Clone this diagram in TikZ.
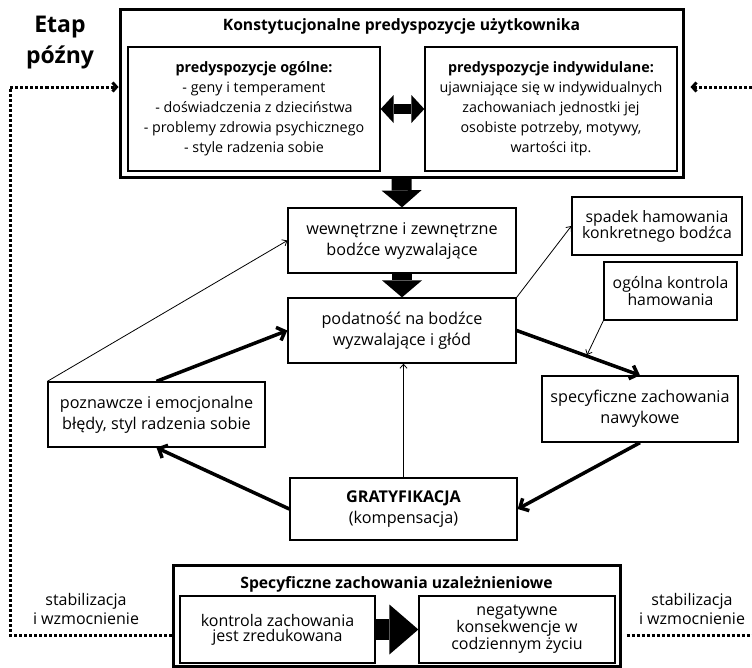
\documentclass[tikz,border=0pt]{standalone}
\usepackage{fontspec}
\setmainfont{Open Sans}
\usetikzlibrary{arrows.meta}

\begin{document}
\begin{tikzpicture}[x = 1pt, y = -1pt,
	main/.style = {draw, line width=1.3pt, align=center, inner sep=0pt, font=\fontsize{16.2}{21}\selectfont},
	outer/.style = {draw, line width=3pt, inner sep=0pt},
	thin/.style = {line width=0.8pt, -{Straight Barb[length=4pt, width=7pt]}},
	thick/.style = {line width=3.5pt, -{Straight Barb[length=7pt, width=14pt]}},
	dots/.style = {line width=3pt, dash pattern=on 3pt off 2pt},
	block/.style = {line width=20pt, -{Triangle[length=17pt, width=40pt, line width=0pt]}}]

	\useasboundingbox (0, 0) rectangle (752, 667);

	% gora
	\node[outer, minimum width=563pt, minimum height=168pt] (konst) at (401.5, 93) {};
	\node[font=\bfseries\fontsize{15.7}{18}\selectfont] (konstTytul) at (401.5, 26) {Konstytucjonalne predyspozycje użytkownika};
	\node[main, font=\fontsize{14.3}{20}\selectfont, minimum width=252pt, minimum height=124pt] (ogolne) at (254, 109)
		{\textbf{predyspozycje ogólne:}\\- geny i temperament\\- doświadczenia z dzieciństwa\\- problemy zdrowia psychicznego\\- style radzenia sobie};
	\node[main, font=\fontsize{14.3}{20}\selectfont, minimum width=252pt, minimum height=124pt] (indyw) at (551, 109)
		{\textbf{predyspozycje indywidulane:}\\ujawniające się w indywidualnych\\zachowaniach jednostki jej\\osobiste potrzeby, motywy,\\wartości itp.};
	\draw[line width=10pt, {Triangle[length=13pt, width=28pt, line width=0pt]}-{Triangle[length=13pt, width=28pt, line width=0pt]}] (ogolne.east) -- (indyw.west);

	\node[font=\bfseries\fontsize{23}{31}\selectfont, align=center] (etap) at (60, 43) {Etap\\późny};

	% srodek
	\node[main, minimum width=228pt, minimum height=65pt] (wew) at (402, 240.5) {wewnętrzne i zewnętrzne\\bodźce wyzwalające};
	\node[main, minimum width=228pt, minimum height=65pt] (podat) at (402, 330.5) {podatność na bodźce\\wyzwalające i głód};
	\node[main, font=\fontsize{15.8}{16}\selectfont, minimum width=170pt, minimum height=58pt] (spadek) at (657, 226) {spadek hamowania\\konkretnego bodźca};
	\node[main, font=\fontsize{15.8}{15}\selectfont, minimum width=133pt, minimum height=58pt] (ogolna) at (670.5, 291) {ogólna kontrola\\hamowania};
	\node[main, minimum width=196pt, minimum height=66pt] (nawyk) at (640, 409) {specyficzne zachowania\\nawykowe};
	\node[main, minimum width=217pt, minimum height=65pt] (pozn) at (156.5, 414.5) {poznawcze i emocjonalne\\błędy, styl radzenia sobie};
	\node[main, minimum width=227pt, minimum height=62pt] (gratyf) at (403.5, 509) {\textbf{GRATYFIKACJA}\\(kompensacja)};

	\draw[block] (konst.south) -- (wew.north);
	\draw[block] (wew.south) -- (podat.north);

	\coordinate (naStrzalce) at (587, 355);
	\draw[thin] (pozn.north west) -- (wew.west);
	\draw[thick] (pozn.north) -- (podat.west);
	\draw[thick] (gratyf.west) -- (pozn.south);
	\draw[thin] (gratyf.north) -- (gratyf.north |- podat.south);
	\draw[thin] (podat.north east) -- (spadek.west);
	\draw[thick] (podat.east) -- (nawyk.north);
	\draw[thin] (ogolna.south west) -- (naStrzalce);
	\draw[thick] (nawyk.south) -- (gratyf.east);

	% dol
	\node[outer, minimum width=447pt, minimum height=101pt] (uzal) at (396.5, 615.5) {};
	\node[font=\bfseries\fontsize{15.7}{18}\selectfont] (uzalTytul) at (396.5, 584) {Specyficzne zachowania uzależnieniowe};
	\node[main, font=\fontsize{16}{15}\selectfont, minimum width=195pt, minimum height=67pt] (kontrola) at (277.5, 629.5) {kontrola zachowania\\jest zredukowana};
	\node[main, font=\fontsize{16}{15}\selectfont, minimum width=196pt, minimum height=67pt] (negat) at (517, 629.5) {negatywne\\konsekwencje w\\codziennym życiu};
	\draw[line width=21pt, -{Triangle[length=29pt, width=50pt, line width=0pt]}] (kontrola.east) -- (negat.west);

	\node[font=\fontsize{16}{19}\selectfont, align=center] (stabL) at (86, 609) {stabilizacja\\i wzmocnienie};
	\node[font=\fontsize{16}{19}\selectfont, align=center] (stabR) at (692, 609) {stabilizacja\\i wzmocnienie};

	% petla
	\coordinate (lewyGora) at (10, 87);
	\coordinate (lewyDol) at (10, 635);
	\coordinate (prawyGora) at (752, 87);
	\coordinate (prawyDol) at (752, 635);
	\draw[dots, -{Straight Barb[length=4pt, width=9pt]}] (uzal.west |- lewyDol) -- (lewyDol) -- (lewyGora) -- (konst.west |- lewyGora);
	\draw[dots, -{Straight Barb[length=4pt, width=9pt]}, shorten >=6pt] (prawyGora) -- (konst.east |- prawyGora);
	\draw[dots] ([xshift=5pt]uzal.east |- prawyDol) -- (prawyDol);

\end{tikzpicture}
\end{document}
